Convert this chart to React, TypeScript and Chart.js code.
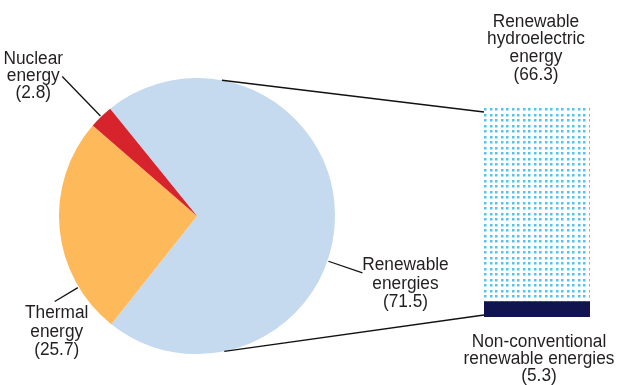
import React, { useEffect, useRef } from 'react';
import { Chart, registerables } from 'chart.js';

Chart.register(...registerables);

// ---- data ----
const pieCategories = ['Renewable energies', 'Thermal energy', 'Nuclear energy'];
const pieLabelLines = [['Renewable', 'energies'], ['Thermal', 'energy'], ['Nuclear', 'energy']];
const pieValues = [71.5, 25.7, 2.8];
const pieColors = ['#c5d9ef', '#fdb95a', '#d7232b'];

const barCategories = ['Non-conventional renewable energies', 'Renewable hydroelectric energy'];
const barLabelLines = [['Non-conventional', 'renewable energies'], ['Renewable', 'hydroelectric', 'energy']];
const barValues = [5.3, 66.3];
const barSolidColor = '#12144f';
const dotColor = '#52c4ef';

const W = 628;
const H = 385;
const FONT = '18px "Liberation Sans", Arial, sans-serif';
const TEXT_COLOR = '#231f20';
const SCALE_X = 0.96;

function drawTextLine(ctx: CanvasRenderingContext2D, text: string, cx: number, y: number) {
  ctx.save();
  ctx.translate(cx, y);
  ctx.scale(SCALE_X, 1);
  ctx.textAlign = 'center';
  ctx.textBaseline = 'alphabetic';
  ctx.fillText(text, 0, 0);
  ctx.restore();
}

function drawBlock(ctx: CanvasRenderingContext2D, lines: string[], cx: number, y0: number, lh: number) {
  ctx.font = FONT;
  ctx.fillStyle = TEXT_COLOR;
  lines.forEach((l, i) => drawTextLine(ctx, l, cx, y0 + i * lh));
}

// leader geometry per pie slice (angle in canvas degrees)
const pieLeaders = [
  { angle: 19, r0: 139, r1: 175, dx: 43, dy: -2.6, lh: 18.3 },
  { angle: 149, r0: 139, r1: 166, dx: 2, dy: 17, lh: 18.3 },
  { angle: 226, r0: 139, r1: 194, dx: -29, dy: -12.7, lh: 17.2 },
];

function makeDotPattern(ctx: CanvasRenderingContext2D): CanvasPattern | string {
  const c = document.createElement('canvas');
  c.width = 11;
  c.height = 11;
  const g = c.getContext('2d')!;
  g.fillStyle = '#ffffff';
  g.fillRect(0, 0, 11, 11);
  g.fillStyle = dotColor;
  for (const x of [0, 6]) for (const y of [0, 6]) g.fillRect(x, y, 2.5, 2.5);
  const p = ctx.createPattern(c, 'repeat');
  return p || dotColor;
}

export default function App() {
  const pieRef = useRef<HTMLCanvasElement>(null);
  const barRef = useRef<HTMLCanvasElement>(null);

  useEffect(() => {
    const pieCanvas = pieRef.current!;
    const barCanvas = barRef.current!;

    const pieLabelPlugin = {
      id: 'pieLabels',
      afterDraw(chart: any) {
        const ctx = chart.ctx as CanvasRenderingContext2D;
        const meta = chart.getDatasetMeta(0);
        meta.data.forEach((arc: any, i: number) => {
          const { x, y, outerRadius } = arc.getProps(['x', 'y', 'outerRadius'], true);
          const L = pieLeaders[i];
          const a = (L.angle * Math.PI) / 180;
          const sx = x + (outerRadius + (L.r0 - 138)) * Math.cos(a);
          const sy = y + (outerRadius + (L.r0 - 138)) * Math.sin(a);
          const ex = x + (outerRadius + (L.r1 - 138)) * Math.cos(a);
          const ey = y + (outerRadius + (L.r1 - 138)) * Math.sin(a);
          ctx.save();
          ctx.strokeStyle = '#111111';
          ctx.lineWidth = 1.3;
          ctx.beginPath();
          ctx.moveTo(sx, sy);
          ctx.lineTo(ex, ey);
          ctx.stroke();
          drawBlock(ctx, [...pieLabelLines[i], `(${pieValues[i]})`], ex + L.dx, ey + L.dy, L.lh);
          ctx.restore();
        });
      },
    };

    const pie = new Chart(pieCanvas, {
      type: 'pie',
      data: {
        labels: pieCategories,
        datasets: [{ data: pieValues, backgroundColor: pieColors, borderWidth: 0 }],
      },
      options: {
        animation: false,
        responsive: false,
        rotation: 321,
        layout: { padding: { left: 59, top: 78, right: 293, bottom: 31 } },
        plugins: { legend: { display: false }, tooltip: { enabled: false } },
      },
      plugins: [pieLabelPlugin],
    } as any);

    const barCtx = barCanvas.getContext('2d')!;
    const pattern = makeDotPattern(barCtx);

    const barPlugin = {
      id: 'barExtras',
      beforeDatasetsDraw(chart: any) {
        const el: any = chart.getDatasetMeta(1).data[0];
        if (el && pattern && typeof pattern !== 'string' && (pattern as any).setTransform) {
          const left = el.x - el.width / 2;
          (pattern as any).setTransform(new DOMMatrix([1, 0, 0, 1, Math.round(left), Math.round(el.y)]));
        }
      },
      afterDraw(chart: any) {
        const ctx = chart.ctx as CanvasRenderingContext2D;
        const hydro: any = chart.getDatasetMeta(1).data[0];
        const nc: any = chart.getDatasetMeta(0).data[0];
        const left = hydro.x - hydro.width / 2;
        const top = hydro.y;
        const bottom = nc.base;
        const arc: any = pie.getDatasetMeta(0).data[0];
        const { x, y, outerRadius } = arc.getProps(['x', 'y', 'outerRadius'], true);
        const a1 = (-79.6 * Math.PI) / 180;
        const a2 = (78.6 * Math.PI) / 180;
        ctx.save();
        ctx.strokeStyle = '#111111';
        ctx.lineWidth = 1.3;
        ctx.beginPath();
        ctx.moveTo(x + outerRadius * Math.cos(a1), y + outerRadius * Math.sin(a1));
        ctx.lineTo(left, top + 4);
        ctx.moveTo(x + outerRadius * Math.cos(a2), y + outerRadius * Math.sin(a2));
        ctx.lineTo(left, bottom - 2);
        ctx.stroke();
        // labels
        const hydroLines = [...barLabelLines[1], `(${barValues[1]})`];
        const lhTop = 17.8;
        drawBlock(ctx, hydroLines, hydro.x - 1, top - 28 - (hydroLines.length - 1) * lhTop, lhTop);
        const ncLines = [...barLabelLines[0], `(${barValues[0]})`];
        drawBlock(ctx, ncLines, nc.x + 2, bottom + 29.7, 16.9);
        ctx.restore();
      },
    };

    const bar = new Chart(barCanvas, {
      type: 'bar',
      data: {
        labels: ['Renewable energies'],
        datasets: [
          { label: barCategories[0], data: [barValues[0]], backgroundColor: barSolidColor, borderWidth: 0 },
          { label: barCategories[1], data: [barValues[1]], backgroundColor: pattern as any, borderWidth: 0 },
        ],
      },
      options: {
        animation: false,
        responsive: false,
        layout: { padding: { left: 484, right: 38, top: 108, bottom: 68 } },
        datasets: { bar: { barPercentage: 1, categoryPercentage: 1 } },
        scales: {
          x: { stacked: true, display: false },
          y: { stacked: true, display: false, min: 0, max: barValues[0] + barValues[1] },
        },
        plugins: { legend: { display: false }, tooltip: { enabled: false } },
      },
      plugins: [barPlugin],
    } as any);

    return () => {
      bar.destroy();
      pie.destroy();
    };
  }, []);

  return (
    <div style={{ position: 'fixed', left: 0, top: 0, width: W, height: H, background: '#ffffff' }}>
      <canvas ref={pieRef} width={W} height={H} style={{ position: 'absolute', left: 0, top: 0, width: W, height: H }} />
      <canvas
        ref={barRef}
        width={W}
        height={H}
        style={{ position: 'absolute', left: 0, top: 0, width: W, height: H, pointerEvents: 'none' }}
      />
    </div>
  );
}
